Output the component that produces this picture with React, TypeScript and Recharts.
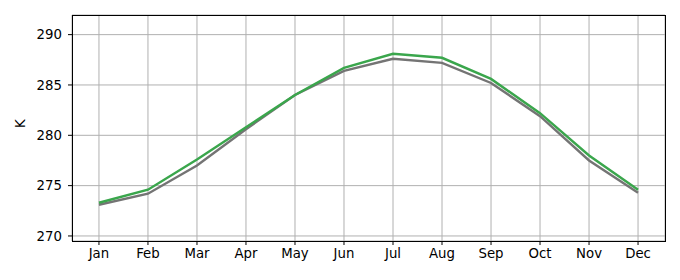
import React from 'react';
import { LineChart, Line, XAxis, YAxis, CartesianGrid, ReferenceArea } from 'recharts';

const months = ['Jan', 'Feb', 'Mar', 'Apr', 'May', 'Jun', 'Jul', 'Aug', 'Sep', 'Oct', 'Nov', 'Dec'];
const greenSeries = [273.3, 274.6, 277.6, 280.8, 284.0, 286.7, 288.1, 287.7, 285.6, 282.2, 278.0, 274.6];
const graySeries = [273.1, 274.2, 277.0, 280.6, 284.0, 286.4, 287.6, 287.2, 285.2, 281.9, 277.5, 274.3];
const yTicks = [270, 275, 280, 285, 290];
const xDomain: [number, number] = [-0.55, 11.55];
const yDomain: [number, number] = [269.5, 291.95];

const data = months.map((m, i) => ({ idx: i, month: m, green: greenSeries[i], gray: graySeries[i] }));
const xTicks = months.map((_, i) => i);

const font = { fontFamily: 'DejaVu Sans', fontSize: 13.3, fill: '#000' };
const border = { stroke: '#000', strokeWidth: 1, shapeRendering: 'crispEdges' } as any;

export default function App() {
  return (
    <div style={{ position: 'absolute', left: 0, top: 0, background: '#fff' }}>
      <LineChart width={680} height={280} data={data} margin={{ top: 15, right: 15, bottom: 0, left: 0 }}>
        <CartesianGrid stroke="#b0b0b0" strokeWidth={1} />
        <XAxis
          dataKey="idx"
          type="number"
          domain={xDomain}
          ticks={xTicks}
          tickFormatter={(v: number) => months[v]}
          interval={0}
          allowDataOverflow
          height={39}
          tickSize={4}
          tickMargin={4}
          stroke="#000"
          tick={font}
          axisLine={border}
          tickLine={{ stroke: '#000' }}
        />
        <YAxis
          domain={yDomain}
          ticks={yTicks}
          allowDataOverflow
          width={72}
          tickSize={4}
          tickMargin={6}
          stroke="#000"
          tick={font}
          axisLine={border}
          tickLine={{ stroke: '#000' }}
          label={{ value: 'K', angle: -90, position: 'insideLeft', offset: 20, style: { fontFamily: 'DejaVu Sans', fontSize: 13.3, fill: '#000' } }}
        />
        <Line type="linear" dataKey="gray" stroke="#747474" strokeWidth={2.4} dot={false} isAnimationActive={false} />
        <Line type="linear" dataKey="green" stroke="#3aa64c" strokeWidth={2.4} dot={false} isAnimationActive={false} />
        <ReferenceArea x1={xDomain[0]} x2={xDomain[1]} y1={yDomain[0]} y2={yDomain[1]} fill="none" fillOpacity={0} stroke="#000" strokeWidth={1} strokeOpacity={1} shapeRendering="crispEdges" ifOverflow="visible" />
      </LineChart>
    </div>
  );
}
